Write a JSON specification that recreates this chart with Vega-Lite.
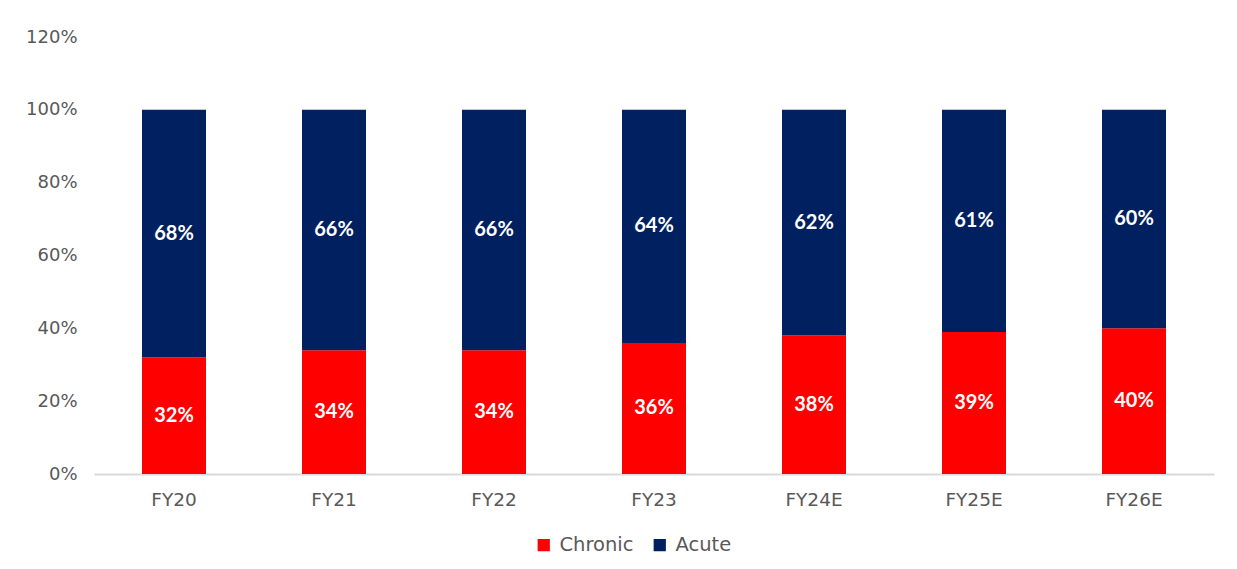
{
  "$schema": "https://vega.github.io/schema/vega-lite/v6.json",
  "width": 1120,
  "height": 437,
  "autosize": "none",
  "padding": {"left": 94, "top": 37, "right": 23, "bottom": 95},
  "background": "white",
  "config": {"view": {"stroke": null}, "font": "DejaVu Sans"},
  "data": {"values": [
    {"year": "FY20", "type": "Chronic", "value": 32},
    {"year": "FY20", "type": "Acute", "value": 68},
    {"year": "FY21", "type": "Chronic", "value": 34},
    {"year": "FY21", "type": "Acute", "value": 66},
    {"year": "FY22", "type": "Chronic", "value": 34},
    {"year": "FY22", "type": "Acute", "value": 66},
    {"year": "FY23", "type": "Chronic", "value": 36},
    {"year": "FY23", "type": "Acute", "value": 64},
    {"year": "FY24E", "type": "Chronic", "value": 38},
    {"year": "FY24E", "type": "Acute", "value": 62},
    {"year": "FY25E", "type": "Chronic", "value": 39},
    {"year": "FY25E", "type": "Acute", "value": 61},
    {"year": "FY26E", "type": "Chronic", "value": 40},
    {"year": "FY26E", "type": "Acute", "value": 60}
  ]},
  "transform": [
    {"calculate": "datum.type === 'Chronic' ? 0 : 1", "as": "ord"},
    {"stack": "value", "groupby": ["year"], "sort": [{"field": "ord", "order": "ascending"}], "as": ["v0", "v1"]},
    {"calculate": "(datum.v0 + datum.v1) / 2", "as": "mid"}
  ],
  "encoding": {
    "x": {
      "field": "year", "type": "nominal", "sort": null,
      "scale": {"paddingInner": 0.6, "paddingOuter": 0.3},
      "axis": {"title": null, "labelAngle": 0, "labelFontSize": 18.5, "labelColor": "#595959", "labelPadding": 16, "ticks": false, "domainColor": "#d9d9d9", "domainWidth": 2}
    }
  },
  "layer": [
    {
      "mark": {"type": "bar"},
      "encoding": {
        "y": {"field": "v0", "type": "quantitative", "scale": {"domain": [0, 120]},
          "axis": {"title": null, "values": [0, 20, 40, 60, 80, 100, 120], "labelExpr": "datum.value + '%'", "labelFontSize": 18, "labelColor": "#595959", "labelPadding": 17, "ticks": false, "domain": false, "grid": false}},
        "y2": {"field": "v1"},
        "color": {
          "field": "type", "type": "nominal",
          "scale": {"domain": ["Chronic", "Acute"], "range": ["#FF0000", "#002060"]},
          "legend": {"title": null, "orient": "none", "direction": "horizontal", "legendX": 440, "legendY": 498, "symbolType": "square", "symbolSize": 150, "symbolStrokeWidth": 0, "labelFontSize": 19.5, "labelColor": "#595959", "columnPadding": 16, "labelOffset": 6}
        }
      }
    },
    {
      "mark": {"type": "text", "color": "white", "font": "Lato", "fontWeight": "bold", "fontSize": 20, "baseline": "middle", "text": {"expr": "datum.value + '%'"}},
      "encoding": {
        "y": {"field": "mid", "type": "quantitative"},
        "detail": {"field": "type"}
      }
    }
  ]
}
